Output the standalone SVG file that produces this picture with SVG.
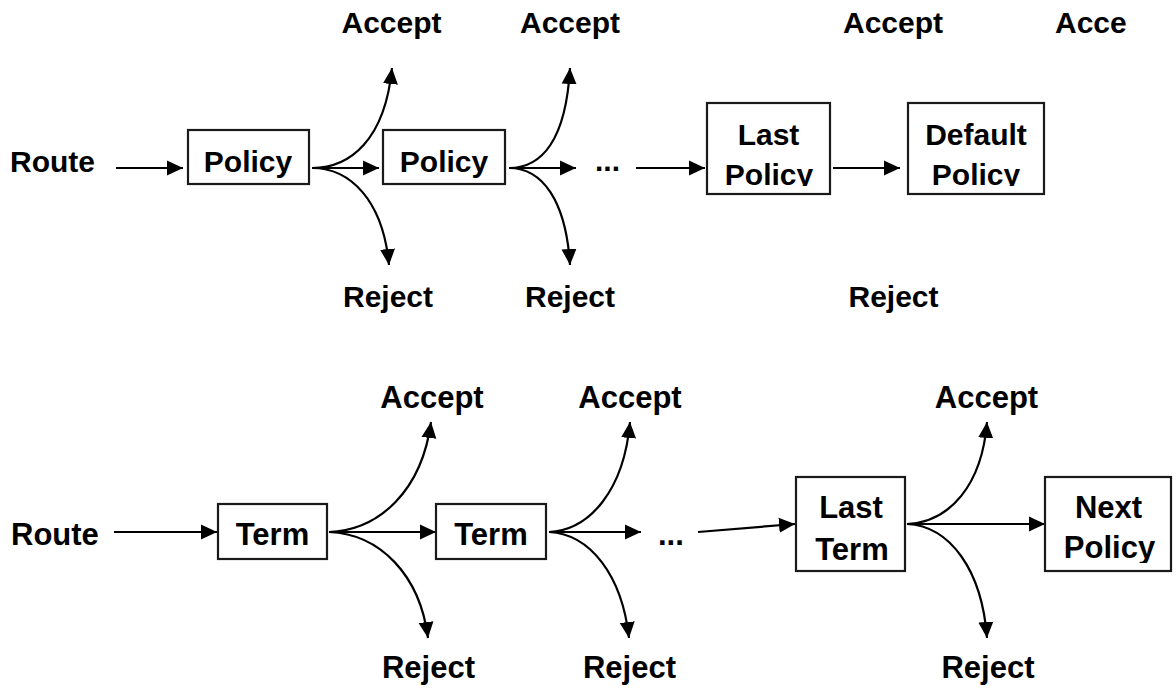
<svg xmlns="http://www.w3.org/2000/svg" width="1176" height="689" viewBox="0 0 1176 689">
<style>
.t{font-family:"Liberation Sans",Arial,sans-serif;font-weight:bold;fill:#000;}
.a{font-size:30px;}
.b{font-size:31px;}
.m{text-anchor:middle;}
.box{fill:#fff;stroke:#1a1a1a;stroke-width:2.2;}
.c{fill:none;stroke:#000;stroke-width:2.2;marker-end:url(#ah);}
</style>
<defs>
<marker id="ah" markerUnits="userSpaceOnUse" markerWidth="17" markerHeight="17" viewBox="0 0 17 17" refX="16" refY="8.5" orient="auto">
<path d="M0,1 L16,8.5 L0,16 Z" fill="#000"/>
</marker>
<clipPath id="clipLP"><rect x="700" y="100" width="140" height="86"/></clipPath>
<clipPath id="clipDP"><rect x="900" y="100" width="150" height="86"/></clipPath>
<clipPath id="clipNP"><rect x="1040" y="470" width="136" height="93"/></clipPath>
</defs>
<rect width="1176" height="689" fill="#fff"/>

<g id="connectors">
<path class="c" d="M116,168 H183"/>
<path class="c" d="M312,168 C350,168 385,140 392,68"/>
<path class="c" d="M312,168 H379"/>
<path class="c" d="M312,168 C350,168 383,200 389,265"/>
<path class="c" d="M509,168 C542,168 566,140 570,68"/>
<path class="c" d="M509,168 H576"/>
<path class="c" d="M509,168 C542,168 566,200 570,265"/>
<path class="c" d="M636,168 H705"/>
<path class="c" d="M833,168 H900"/>

<path class="c" d="M114,532 H217"/>
<path class="c" d="M329,532 C380,530 422,490 431,422"/>
<path class="c" d="M329,532 H436"/>
<path class="c" d="M329,532 C380,534 420,575 428,638"/>
<path class="c" d="M549,532 C590,530 624,490 630,422"/>
<path class="c" d="M549,532 H641"/>
<path class="c" d="M549,532 C590,534 622,575 629,638"/>
<path class="c" d="M698,532 L795,524"/>
<path class="c" d="M907,524 C950,522 982,485 987,422"/>
<path class="c" d="M907,524 H1045"/>
<path class="c" d="M907,524 C950,526 982,570 987,638"/>
</g>

<g id="labels-top">
<text class="t a" x="10" y="172">Route</text>
<text class="t a m" x="391.5" y="33">Accept</text>
<text class="t a m" x="570" y="33">Accept</text>
<text class="t a m" x="893" y="33">Accept</text>
<text class="t a" x="1055" y="33">Acce</text>
<text class="t a m" x="388" y="307">Reject</text>
<text class="t a m" x="570" y="307">Reject</text>
<text class="t a m" x="893.5" y="307">Reject</text>
<text class="t a" x="595" y="171">...</text>
</g>

<g id="policy1">
<rect class="box" x="188" y="130" width="121" height="54"/>
<text class="t a m" x="248" y="172">Policy</text>
</g>
<g id="policy2">
<rect class="box" x="383" y="130" width="122" height="54"/>
<text class="t a m" x="444" y="172">Policy</text>
</g>
<g id="last-policy">
<rect class="box" x="707" y="103" width="123" height="91"/>
<text class="t a m" x="768.5" y="145">Last</text>
<text class="t a m" x="769" y="185" clip-path="url(#clipLP)">Policy</text>
</g>
<g id="default-policy">
<rect class="box" x="908" y="103" width="136" height="91"/>
<text class="t a m" x="976" y="145">Default</text>
<text class="t a m" x="976" y="185" clip-path="url(#clipDP)">Policy</text>
</g>

<g id="labels-bottom">
<text class="t b" x="11" y="545">Route</text>
<text class="t b m" x="432" y="408">Accept</text>
<text class="t b m" x="630" y="408">Accept</text>
<text class="t b m" x="986.5" y="408">Accept</text>
<text class="t b m" x="428.5" y="678">Reject</text>
<text class="t b m" x="629.5" y="678">Reject</text>
<text class="t b m" x="988" y="678">Reject</text>
<text class="t b" x="658" y="545">...</text>
</g>

<g id="term1">
<rect class="box" x="218" y="504" width="109" height="55"/>
<text class="t b m" x="272.5" y="545">Term</text>
</g>
<g id="term2">
<rect class="box" x="436" y="504" width="110" height="55"/>
<text class="t b m" x="491" y="545">Term</text>
</g>
<g id="last-term">
<rect class="box" x="796" y="477" width="109" height="94"/>
<text class="t b m" x="851" y="518">Last</text>
<text class="t b m" x="852" y="560">Term</text>
</g>
<g id="next-policy">
<rect class="box" x="1045" y="477" width="126" height="94"/>
<text class="t b m" x="1108.5" y="518">Next</text>
<text class="t b m" x="1109.5" y="558" clip-path="url(#clipNP)">Policy</text>
</g>
</svg>
